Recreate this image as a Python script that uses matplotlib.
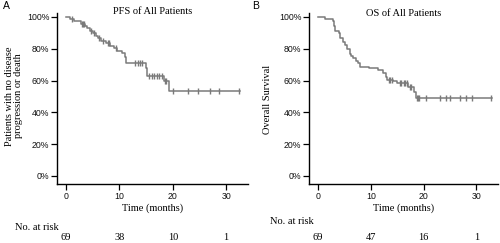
import numpy as np
import matplotlib.pyplot as plt
from matplotlib.transforms import blended_transform_factory

# PFS 資料 (事件時間, 存活率)
pfs_times = [0.8, 1.5, 2.8, 3.5, 4.0, 4.5, 5.0, 5.6, 6.0, 6.5, 7.5, 8.3, 8.9, 9.5, 10.5, 11.0, 11.2, 14.9, 15.2, 18.3, 19.2]
pfs_surv = [0.986, 0.971, 0.957, 0.942, 0.927, 0.912, 0.897, 0.882, 0.866, 0.851, 0.835, 0.819, 0.803, 0.787, 0.770, 0.745, 0.713, 0.677, 0.630, 0.597, 0.537]
pfs_censor = [1.2, 3.0, 3.2, 3.4, 4.6, 5.2, 6.2, 7.0, 7.8, 8.0, 9.3, 13.0, 13.4, 13.8, 14.3,
              15.6, 16.1, 16.5, 17.0, 17.5, 18.0, 18.6, 18.8, 20.1, 22.9, 24.8, 27.0, 28.6, 32.5]
pfs_end = 32.6
pfs_risk = [69, 38, 10, 1]

# OS 資料
os_times = [1.4, 2.8, 3.0, 3.3, 3.9, 4.2, 4.7, 5.2, 5.5, 6.0, 6.3, 6.7, 7.2, 7.6, 7.9,
            9.6, 11.3, 12.4, 12.8, 13.0, 14.3, 14.9, 17.1, 18.2, 18.6]
os_surv = [0.985, 0.971, 0.942, 0.913, 0.899, 0.870, 0.841, 0.826, 0.797, 0.768, 0.754, 0.739, 0.725, 0.710, 0.688,
           0.678, 0.667, 0.645, 0.620, 0.605, 0.594, 0.582, 0.558, 0.528, 0.488]
os_censor = [13.4, 13.7, 14.0, 15.5, 15.8, 16.2, 16.5, 16.8, 17.4, 17.7, 18.8, 19.0, 19.2,
             20.4, 23.2, 24.3, 25.0, 26.9, 28.1, 29.2, 32.7]
os_end = 32.9
os_risk = [69, 47, 16, 1]

risk_times = [0, 10, 20, 30]
x_ticks = [0, 10, 20, 30]
y_ticks = [0, 0.2, 0.4, 0.6, 0.8, 1.0]
y_ticklabels = ['0%', '20%', '40%', '60%', '80%', '100%']

serif = 'Liberation Serif'
sans = 'Liberation Sans'
line_color = '#7a7a7a'

fig = plt.figure(figsize=(5, 2.43), dpi=100)


def km_panel(rect, times, surv, censor, end, title, title_y):
    ax = fig.add_axes(rect)
    xs = [0] + list(times) + [end]
    ys = [1.0] + list(surv) + [surv[-1]]
    ax.step(xs, ys, where='post', color=line_color, lw=1.1)
    # 刪失標記
    t_arr = np.array(times)
    s_arr = np.array(surv)
    cy = [s_arr[np.searchsorted(t_arr, c, side='right') - 1] if c >= t_arr[0] else 1.0 for c in censor]
    ax.plot(censor, cy, ls='none', marker='|', ms=4.5, mew=1.0, color=line_color)

    ax.set_xlim(-1.7, 34.1)
    ax.set_ylim(-0.05, 1.025)
    ax.set_xticks(x_ticks)
    ax.set_yticks(y_ticks)
    ax.set_yticklabels(y_ticklabels)
    for lab in ax.get_xticklabels() + ax.get_yticklabels():
        lab.set_family(sans)
        lab.set_fontsize(6.3)
        lab.set_color('#111111')
    ax.tick_params(direction='out', length=4, width=0.9, pad=1.5)
    for s in ['top', 'right']:
        ax.spines[s].set_visible(False)
    for s in ['left', 'bottom']:
        ax.spines[s].set_linewidth(1.0)
    ax.set_xlabel('Time (months)', family=serif, fontsize=7.5, labelpad=2)
    fig.text(rect[0] + rect[2] / 2, title_y, title, family=serif, fontsize=7.5,
             ha='center', va='center')
    return ax


ax1 = km_panel([0.114, 0.243, 0.382, 0.704], pfs_times, pfs_surv, pfs_censor, pfs_end,
               'PFS of All Patients', 1 - 11 / 243)
ax2 = km_panel([0.618, 0.243, 0.378, 0.704], os_times, os_surv, os_censor, os_end,
               'OS of All Patients', 1 - 13 / 243)

# y 軸標籤
fig.text(14 / 500, 1 - 96 / 243, 'Patients with no disease\nprogression or death', family=serif,
         fontsize=7.5, rotation=90, ha='center', va='center', linespacing=0.95)
fig.text(268 / 500, 1 - 99 / 243, 'Overall Survival', family=serif, fontsize=7.5,
         rotation=90, ha='center', va='center')

# 面板字母
fig.text(3 / 500, 1 - 6 / 243, 'A', family=sans, fontsize=7.5, ha='left', va='center')
fig.text(252 / 500, 1 - 6 / 243, 'B', family=sans, fontsize=7.5, ha='left', va='center')

# 風險人數表
fig.text(15 / 500, 1 - 227 / 243, 'No. at risk', family=serif, fontsize=7.5, ha='left', va='center')
fig.text(270 / 500, 1 - 222 / 243, 'No. at risk', family=serif, fontsize=7.5, ha='left', va='center')
for ax, risk in [(ax1, pfs_risk), (ax2, os_risk)]:
    trans = blended_transform_factory(ax.transData, fig.transFigure)
    for t, n in zip(risk_times, risk):
        ax.text(t, 1 - 237 / 243, str(n), transform=trans,
                family=serif, fontsize=7.5, ha='center', va='center')

plt.savefig('out.png', dpi=100)
